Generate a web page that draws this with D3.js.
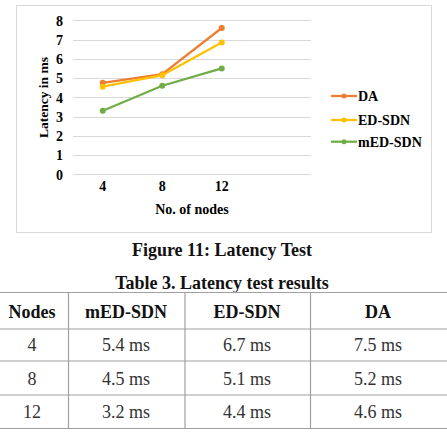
<!DOCTYPE html>
<html><head><meta charset="utf-8">
<script src="https://cdn.jsdelivr.net/npm/d3@7"></script>
<style>body{margin:0;background:#fff;}svg{display:block;}</style>
</head><body>
<svg id="c" width="447" height="434"></svg>
<script>
const categories = ["4", "8", "12", ""];
const seriesNames = ["DA", "ED-SDN", "mED-SDN"];
const daValues = [4.75, 5.2, 7.6];
const edValues = [4.55, 5.15, 6.85];
const medValues = [3.3, 4.6, 5.5];
const yTicks = [0, 1, 2, 3, 4, 5, 6, 7, 8];
const colors = ["#ED7D31", "#FFC000", "#70AD47"];

const tableHeaders = ["Nodes", "mED-SDN", "ED-SDN", "DA"];
const tableNodes = ["4", "8", "12"];
const tableMed = ["5.4 ms", "4.5 ms", "3.2 ms"];
const tableEd = ["6.7 ms", "5.1 ms", "4.4 ms"];
const tableDa = ["7.5 ms", "5.2 ms", "4.6 ms"];

const font = "'Liberation Serif','Times New Roman',serif";
const svg = d3.select("#c");

// chart frame
svg.append("rect").attr("x", 16.5).attr("y", 5.5).attr("width", 415).attr("height", 227)
  .attr("fill", "#fff").attr("stroke", "#d9d9d9").attr("stroke-width", 1);

const x = d3.scaleBand().domain(categories).range([73, 311]);
const y = d3.scaleLinear().domain([0, 8]).range([174.3, 20.3]);

const g = svg.append("g");
g.selectAll("line.grid").data(yTicks).join("line")
  .attr("x1", 73).attr("x2", 311)
  .attr("y1", d => Math.round(y(d)) + 0.5).attr("y2", d => Math.round(y(d)) + 0.5)
  .attr("stroke", "#d9d9d9").attr("stroke-width", 1);

const yAxis = d3.axisLeft(y).tickValues(yTicks).tickSize(0).tickPadding(0);
const ya = g.append("g").attr("transform", "translate(63,0)").call(yAxis);
ya.select(".domain").remove();
ya.selectAll("text").attr("font-family", font).attr("font-weight", "bold").attr("font-size", 14).attr("fill", "#000").attr("dy", "0.35em");

const xAxis = d3.axisBottom(x).tickSize(0).tickPadding(0);
const xa = g.append("g").attr("transform", "translate(0,186)").call(xAxis);
xa.select(".domain").remove();
xa.selectAll("text").attr("font-family", font).attr("font-weight", "bold").attr("font-size", 14).attr("fill", "#000").attr("dy", "0.35em");

const cx = i => x(categories[i]) + x.bandwidth() / 2;
const series = [daValues, edValues, medValues];
const line = d3.line().x((d, i) => cx(i)).y(d => y(d));
series.forEach((vals, si) => {
  g.append("path").datum(vals).attr("d", line).attr("fill", "none")
    .attr("stroke", colors[si]).attr("stroke-width", 2.25);
  g.selectAll(null).data(vals).join("circle")
    .attr("cx", (d, i) => cx(i)).attr("cy", d => y(d)).attr("r", 3)
    .attr("fill", colors[si]);
});

// axis titles
g.append("text").attr("transform", "translate(43,97.5) rotate(-90)")
  .attr("text-anchor", "middle").attr("dy", "0.35em")
  .attr("font-family", font).attr("font-weight", "bold").attr("font-size", 13.5).text("Latency in ms");
g.append("text").attr("x", 192).attr("y", 209.5).attr("text-anchor", "middle").attr("dy", "0.35em")
  .attr("font-family", font).attr("font-weight", "bold").attr("font-size", 14).text("No. of nodes");

// legend
const legY = [96, 120, 141.7];
seriesNames.forEach((n, i) => {
  const lg = g.append("g");
  lg.append("line").attr("x1", 331).attr("x2", 357).attr("y1", legY[i]).attr("y2", legY[i])
    .attr("stroke", colors[i]).attr("stroke-width", 2.25);
  lg.append("circle").attr("cx", 344).attr("cy", legY[i]).attr("r", 2.5).attr("fill", colors[i]);
  lg.append("text").attr("x", 358).attr("y", legY[i]).attr("dy", "0.35em")
    .attr("font-family", font).attr("font-weight", "bold").attr("font-size", 14).text(n);
});

// captions
svg.append("text").attr("x", 222).attr("y", 250).attr("dy", "0.35em").attr("text-anchor", "middle")
  .attr("font-family", font).attr("font-weight", "bold").attr("font-size", 18).attr("fill", "#111").text("Figure 11: Latency Test");
svg.append("text").attr("x", 222).attr("y", 282.5).attr("dy", "0.35em").attr("text-anchor", "middle")
  .attr("font-family", font).attr("font-weight", "bold").attr("font-size", 18).attr("fill", "#111").text("Table 3. Latency test results");

// table
const rowEdges = [292.5, 329, 361, 395, 428.5];
const colEdges = [0, 68.5, 185, 310.5, 447];
const tg = svg.append("g");
rowEdges.forEach(yy => tg.append("line").attr("x1", 0).attr("x2", 447).attr("y1", yy).attr("y2", yy)
  .attr("stroke", "#a0a0a0").attr("stroke-width", 1.2));
colEdges.slice(1, 4).forEach(xx => tg.append("line").attr("x1", xx).attr("x2", xx)
  .attr("y1", rowEdges[0]).attr("y2", rowEdges[4]).attr("stroke", "#a0a0a0").attr("stroke-width", 1.2));
const colCenters = [32, 126, 247, 378];
const rows = [tableHeaders];
for (let i = 0; i < tableNodes.length; i++) rows.push([tableNodes[i], tableMed[i], tableEd[i], tableDa[i]]);
const rowCenters = [312, 345, 378.5, 412];
rows.forEach((r, ri) => {
  r.forEach((cell, ci) => {
    tg.append("text").attr("x", colCenters[ci]).attr("y", rowCenters[ri]).attr("dy", "0.35em")
      .attr("text-anchor", "middle").attr("font-family", font)
      .attr("font-weight", ri === 0 ? "bold" : "normal").attr("font-size", 18)
      .attr("fill", ri === 0 ? "#111" : "#333").text(cell);
  });
});
</script>
</body></html>
